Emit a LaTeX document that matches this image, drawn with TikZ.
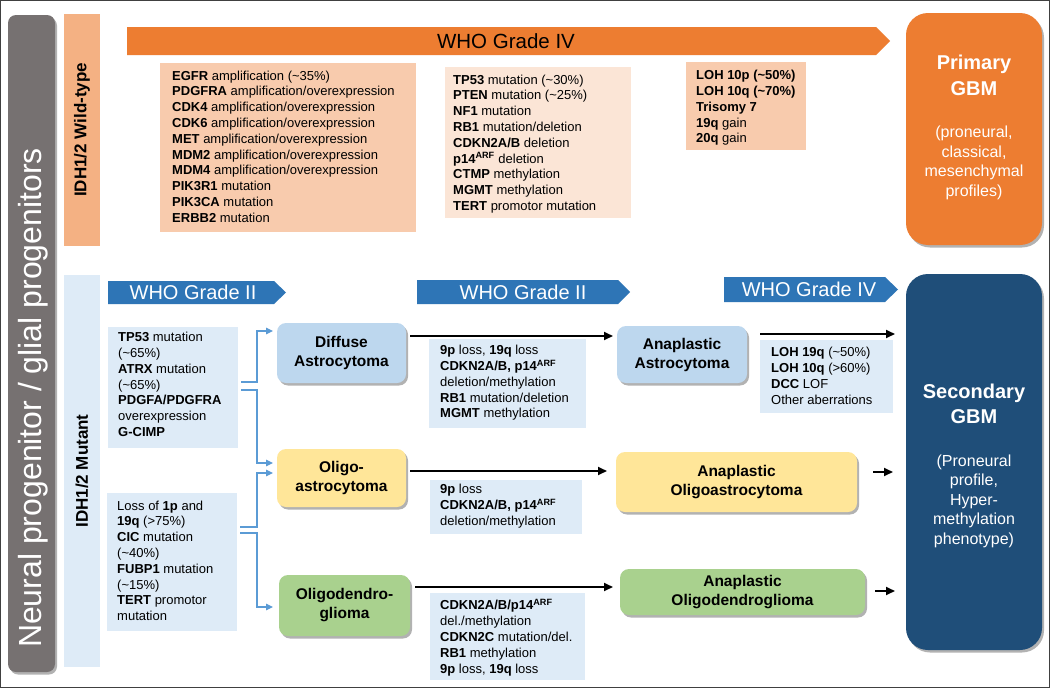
\documentclass[tikz,border=0pt]{standalone}
\usepackage{fontspec}
\setmainfont{Liberation Sans}
\usetikzlibrary{arrows.meta,shadows}
\definecolor{gbmorange}{HTML}{ED7D31}
\definecolor{peach}{HTML}{F8CBAD}
\definecolor{peachdark}{HTML}{F4B183}
\definecolor{peachlight}{HTML}{FBE5D6}
\definecolor{paleblue}{HTML}{DEEBF7}
\definecolor{skyblue}{HTML}{BDD7EE}
\definecolor{pyellow}{HTML}{FFE699}
\definecolor{pgreen}{HTML}{A9D18E}
\definecolor{midblue}{HTML}{2E75B6}
\definecolor{navy}{HTML}{1F4E79}
\definecolor{slate}{HTML}{767171}
\definecolor{conn}{HTML}{5B9BD5}
\newcommand{\gbody}{\fontsize{13}{15.8}\selectfont}
\newcommand{\gtitle}{\fontsize{15.5}{19}\selectfont\bfseries}
\newcommand{\arf}{\textsuperscript{ARF}}
\begin{document}
\begin{tikzpicture}[x=1pt,y=-1pt,
  panel/.style={anchor=north west, inner sep=0pt, outer sep=0pt},
  txt/.style={anchor=north west, align=left, inner sep=0pt, font=\gbody, execute at begin node=\strut},
  softshadow/.style={drop shadow={shadow xshift=2pt, shadow yshift=-2.5pt, opacity=0.3, fill=black}},
  tumor/.style={anchor=north west, inner sep=0pt, outer sep=0pt, rounded corners=9pt, align=center, font=\gtitle, softshadow},
  gbm/.style={anchor=north west, inner sep=0pt, outer sep=0pt, rounded corners=22pt, softshadow},
  gbmtitle/.style={text=white, align=center, inner sep=0pt, font=\fontsize{20}{25.5}\selectfont\bfseries},
  gbmsub/.style={text=white, align=center, inner sep=0pt, font=\fontsize{16}{19.5}\selectfont},
  blk/.style={line width=1.8pt, -{Triangle[length=9pt,width=8pt]}},
  bconn/.style={draw=conn, line width=1.2pt, -{Triangle[length=7pt,width=6.5pt]}},
  grade/.style={font=\fontsize{20}{24}\selectfont, text=white, inner sep=0pt},
  sidelabel/.style={rotate=90, inner sep=0pt, font=\fontsize{17}{20}\selectfont\bfseries},
]
\useasboundingbox (0,0) rectangle (1050,688);
\fill[white] (0,0) rectangle (1050,688);
\draw[line width=1.2pt, black!75] (0.6,0.6) rectangle (1049.4,687.4);

% left bars
\node[panel, fill=slate, rounded corners=8pt, minimum width=47pt, minimum height=657pt, softshadow] (bar) at (8,15) {};
\node[rotate=90, text=white, inner sep=0pt, font=\fontsize{32}{36}\selectfont] (bart) at (33,398) {Neural progenitor / glial progenitors};
\node[panel, fill=peachdark, minimum width=36pt, minimum height=232pt] (wt) at (64,14) {};
\node[sidelabel] (wtt) at (wt.center) {IDH1/2 Wild-type};
\node[panel, fill=paleblue, minimum width=36pt, minimum height=392pt] (mut) at (64,275) {};
\node[sidelabel] (mutt) at (mut.center) {IDH1/2 Mutant};

% top grade arrow
\fill[gbmorange] (127,27) -- (876,27) -- (890,41) -- (876,55) -- (127,55) -- cycle;
\node[font=\fontsize{20.5}{24}\selectfont, inner sep=0pt] (g4) at (506,41) {WHO Grade IV};

% top boxes
\node[panel, fill=peach, minimum width=256pt, minimum height=169pt] (tl) at (160,63) {};
\node[txt] (tlt) at (172,70.5) {\textbf{EGFR} amplification (\textasciitilde35\%)\\
\textbf{PDGFRA} amplification/overexpression\\
\textbf{CDK4} amplification/overexpression\\
\textbf{CDK6} amplification/overexpression\\
\textbf{MET} amplification/overexpression\\
\textbf{MDM2} amplification/overexpression\\
\textbf{MDM4} amplification/overexpression\\
\textbf{PIK3R1} mutation\\
\textbf{PIK3CA} mutation\\
\textbf{ERBB2} mutation};

\node[panel, fill=peachlight, minimum width=186pt, minimum height=151pt] (tm) at (445,67) {};
\node[txt] (tmt) at (453,74.5) {\textbf{TP53} mutation (\textasciitilde30\%)\\
\textbf{PTEN} mutation (\textasciitilde25\%)\\
\textbf{NF1} mutation\\
\textbf{RB1} mutation/deletion\\
\textbf{CDKN2A/B} deletion\\
\textbf{p14\arf} deletion\\
\textbf{CTMP} methylation\\
\textbf{MGMT} methylation\\
\textbf{TERT} promotor mutation};

\node[panel, fill=peach, minimum width=120pt, minimum height=88pt] (loha) at (686,62) {};
\node[txt] (lohat) at (696,70) {\textbf{LOH 10p (\textasciitilde50\%)}\\
\textbf{LOH 10q (\textasciitilde70\%)}\\
\textbf{Trisomy 7}\\
\textbf{19q} gain\\
\textbf{20q} gain};

% GBM boxes
\node[gbm, fill=gbmorange, minimum width=136pt, minimum height=232pt] (pgbm) at (906,13) {};
\node[gbmtitle] (pgbmt) at (974,75.5) {Primary\\GBM};
\node[gbmsub] (pgbms) at (974,163) {(proneural,\\classical,\\mesenchymal\\profiles)};
\node[gbm, fill=navy, minimum width=136pt, minimum height=376pt] (sgbm) at (906,274) {};
\node[gbmtitle] (sgbmt) at (974,404) {Secondary\\GBM};
\node[gbmsub] (sgbms) at (974,501) {(Proneural\\profile,\\Hyper-\\methylation\\phenotype)};

% blue grade arrows
\fill[midblue] (108,281) -- (274,281) -- (286,292.5) -- (274,304) -- (108,304) -- cycle;
\node[grade] (g2a) at (193,292.5) {WHO Grade II};
\fill[midblue] (417,280) -- (618,280) -- (630,292) -- (618,304) -- (417,304) -- cycle;
\node[grade] (g2b) at (523,292) {WHO Grade II};
\fill[midblue] (724,277) -- (885,277) -- (898,289.5) -- (885,302) -- (724,302) -- cycle;
\node[grade] (g4b) at (809,289.5) {WHO Grade IV};

% left mutation boxes
\node[panel, fill=paleblue, minimum width=130pt, minimum height=121pt] (lb1) at (108,327) {};
\node[txt] (lb1t) at (118,332) {\textbf{TP53} mutation\\(\textasciitilde65\%)\\\textbf{ATRX} mutation\\(\textasciitilde65\%)\\\textbf{PDGFA/PDGFRA}\\overexpression\\\textbf{G-CIMP}};
\node[panel, fill=paleblue, minimum width=130pt, minimum height=138pt] (lb2) at (107,493) {};
\node[txt] (lb2t) at (117,500.5) {Loss of \textbf{1p} and\\\textbf{19q} (>75\%)\\\textbf{CIC} mutation\\(\textasciitilde40\%)\\\textbf{FUBP1} mutation\\(\textasciitilde15\%)\\\textbf{TERT} promotor\\mutation};

% tumour boxes
\node[tumor, fill=skyblue, minimum width=129pt, minimum height=60pt] (da) at (277,323) {Diffuse\\Astrocytoma};
\node[tumor, fill=pyellow, minimum width=129pt, minimum height=58pt] (oa) at (277,449) {Oligo-\\astrocytoma};
\node[tumor, fill=pgreen, minimum width=131pt, minimum height=61pt] (od) at (279,575) {Oligodendro-\\glioma};
\node[tumor, fill=skyblue, minimum width=130pt, minimum height=57pt] (aa) at (617,326) {Anaplastic\\Astrocytoma};
\node[tumor, fill=pyellow, minimum width=241pt, minimum height=60pt] (aoa) at (616,452) {Anaplastic\\Oligoastrocytoma};
\node[tumor, fill=pgreen, minimum width=245pt, minimum height=46pt] (aod) at (620,569) {Anaplastic\\Oligodendroglioma};

% middle boxes
\node[panel, fill=paleblue, minimum width=157pt, minimum height=89pt] (ma) at (429,339) {};
\node[txt] (mat) at (440,345) {\textbf{9p} loss, \textbf{19q} loss\\\textbf{CDKN2A/B, p14\arf}\\deletion/methylation\\\textbf{RB1} mutation/deletion\\\textbf{MGMT} methylation};
\node[panel, fill=paleblue, minimum width=152pt, minimum height=54pt] (mb) at (430,480) {};
\node[txt] (mbt) at (440,484) {\textbf{9p} loss\\\textbf{CDKN2A/B, p14\arf}\\deletion/methylation};
\node[panel, fill=paleblue, minimum width=155pt, minimum height=87pt] (mc) at (430,593) {};
\node[txt] (mct) at (440,599) {\textbf{CDKN2A/B/p14\arf}\\del./methylation\\\textbf{CDKN2C} mutation/del.\\\textbf{RB1} methylation\\\textbf{9p} loss, \textbf{19q} loss};
\node[panel, fill=paleblue, minimum width=133pt, minimum height=73pt] (lohb) at (760,340) {};
\node[txt] (lohbt) at (771,347) {\textbf{LOH 19q} (\textasciitilde50\%)\\\textbf{LOH 10q} (>60\%)\\\textbf{DCC} LOF\\Other aberrations};

% black progression arrows
\coordinate (ya) at (0,336);
\coordinate (yb) at (0,471);
\coordinate (yc) at (0,587);
\coordinate (yd) at (0,334);
\coordinate (ye) at (0,472);
\coordinate (yf) at (0,591);
\draw[blk, shorten <=4pt, shorten >=4pt] (da.east |- ya) -- (aa.west |- ya);
\draw[blk, shorten <=4pt, shorten >=9pt] (oa.east |- yb) -- (aoa.west |- yb);
\draw[blk, shorten <=5pt, shorten >=7pt] (od.east |- yc) -- (aod.west |- yc);
\draw[blk, shorten <=13pt, shorten >=11pt] (aa.east |- yd) -- (sgbm.west |- yd);
\draw[blk, shorten <=16pt, shorten >=13pt] (aoa.east |- ye) -- (sgbm.west |- ye);
\draw[blk, shorten <=10pt, shorten >=11pt] (aod.east |- yf) -- (sgbm.west |- yf);

% blue branching connectors
\coordinate (j1) at (257,382);
\coordinate (j1t) at (257,331);
\coordinate (j2) at (257,390);
\coordinate (j2t) at (257,463);
\coordinate (j3) at (257,527);
\coordinate (j3t) at (257,473);
\coordinate (j4) at (257,533);
\coordinate (j4t) at (257,607);
\draw[bconn, shorten <=3pt, shorten >=4pt] (lb1.east |- j1) -- (j1) -- (j1t) -- (da.west |- j1t);
\draw[bconn, shorten <=3pt, shorten >=4pt] (lb1.east |- j2) -- (j2) -- (j2t) -- (oa.west |- j2t);
\draw[bconn, shorten <=3pt, shorten >=4pt] (lb2.east |- j3) -- (j3) -- (j3t) -- (oa.west |- j3t);
\draw[bconn, shorten <=3pt, shorten >=6pt] (lb2.east |- j4) -- (j4) -- (j4t) -- (od.west |- j4t);
\end{tikzpicture}
\end{document}
